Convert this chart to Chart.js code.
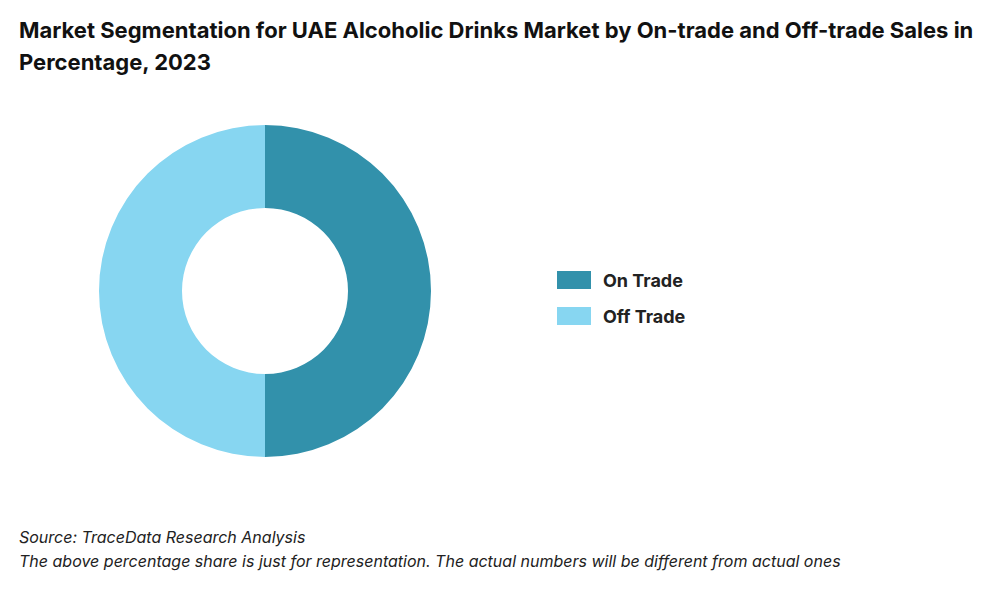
<!DOCTYPE html>
<html>
<head>
<meta charset="utf-8">
<script src="https://cdn.jsdelivr.net/npm/chart.js@4/dist/chart.umd.min.js"></script>
<style>
	body { margin: 0; width: 1000px; height: 600px; background: #fff; font-family: Inter, 'Open Sans', sans-serif; position: relative; overflow: hidden; }
	h1 { position: absolute; left: 19px; top: 14px; margin: 0; font-size: 22px; line-height: 32px; font-weight: 700; color: #111; width: 970px; }
	#wrap { position: absolute; left: 95px; top: 121px; width: 340px; height: 340px; }
	#legend { position: absolute; left: 557px; top: 262px; }
	.item { display: flex; align-items: center; height: 36px; font-size: 18px; font-weight: 700; color: #222; }
	.box { width: 34px; height: 18px; margin-right: 12px; }
	.note { position: absolute; left: 19px; font-size: 16px; font-style: italic; color: #222; }
</style>
</head>
<body>
<h1>Market Segmentation for UAE Alcoholic Drinks Market by On-trade and Off-trade Sales in Percentage, 2023</h1>
<div id="wrap"><canvas id="chart"></canvas></div>
<div id="legend"></div>
<div class="note" style="top:527px">Source: TraceData Research Analysis</div>
<div class="note" style="top:551px">The above percentage share is just for representation. The actual numbers will be different from actual ones</div>
<script>
	const labels = ['On Trade', 'Off Trade'];
	const shares = [50, 50];
	const colors = ['#3291AB', '#87D6F1'];

	const legend = document.getElementById('legend');
	labels.forEach((label, i) => {
		const row = document.createElement('div');
		row.className = 'item';
		row.innerHTML = `<span class="box" style="background:${colors[i]}"></span>${label}`;
		legend.appendChild(row);
	});

	new Chart(document.getElementById('chart'), {
		type: 'doughnut',
		data: {
			labels: labels,
			datasets: [{ data: shares, backgroundColor: colors, borderWidth: 0 }],
		},
		options: {
			responsive: true,
			maintainAspectRatio: false,
			animation: false,
			cutout: '50%',
			layout: { padding: 4 },
			plugins: { legend: { display: false }, tooltip: { enabled: false } },
		},
	});
</script>
</body>
</html>
